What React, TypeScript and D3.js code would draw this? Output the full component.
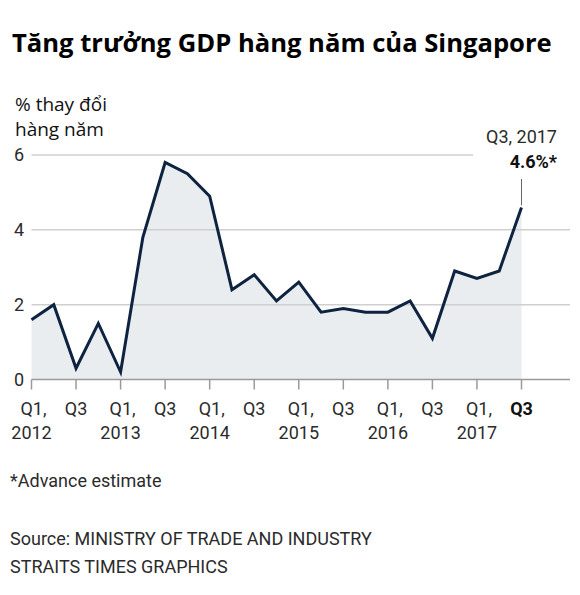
import React from "react";
import * as d3 from "d3";

const quarters = [
  "Q1 2012", "Q2 2012", "Q3 2012", "Q4 2012",
  "Q1 2013", "Q2 2013", "Q3 2013", "Q4 2013",
  "Q1 2014", "Q2 2014", "Q3 2014", "Q4 2014",
  "Q1 2015", "Q2 2015", "Q3 2015", "Q4 2015",
  "Q1 2016", "Q2 2016", "Q3 2016", "Q4 2016",
  "Q1 2017", "Q2 2017", "Q3 2017",
];
const growth = [
  1.6, 2.0, 0.3, 1.5,
  0.2, 3.8, 5.8, 5.5,
  4.9, 2.4, 2.8, 2.1,
  2.6, 1.8, 1.9, 1.8,
  1.8, 2.1, 1.1, 2.9,
  2.7, 2.9, 4.6,
];
const yTicks = [0, 2, 4, 6];
const xTickLines1 = ["Q1,", "Q3", "Q1,", "Q3", "Q1,", "Q3", "Q1,", "Q3", "Q1,", "Q3", "Q1,", "Q3"];
const xTickLines2 = ["2012", "", "2013", "", "2014", "", "2015", "", "2016", "", "2017", ""];

const title = "Tăng trưởng GDP hàng năm của Singapore";
const yTitle = ["% thay đổi", "hàng năm"];
const annotationLabel = "Q3, 2017";
const annotationValue = "4.6%*";
const footnote = "*Advance estimate";
const source = ["Source: MINISTRY OF TRADE AND INDUSTRY", "STRAITS TIMES GRAPHICS"];

export default function App() {
  const x = d3.scaleLinear().domain([0, quarters.length - 1]).range([31.5, 521.5]);
  const y = d3.scaleLinear().domain([0, 6]).range([379.5, 155]);
  const idx = growth.map((_, i) => i);
  const line = d3.line<number>().x((i) => x(i)).y((i) => y(growth[i]));
  const area = d3.area<number>().x((i) => x(i)).y0(y(0)).y1((i) => y(growth[i]));
  const last = growth.length - 1;
  const tickFont = "Roboto, 'DejaVu Sans', sans-serif";
  const txt = "#2b2b2b";
  const fs = 18;

  return (
    <svg width={580} height={595} style={{ position: "absolute", left: 0, top: 0, background: "#fff" }}>
      <text x={12} y={52} fontFamily="'Open Sans', sans-serif" fontWeight={700} fontSize={25.6} fill="#000">
        {title}
      </text>
      {yTitle.map((t, i) => (
        <text key={i} x={15} y={111 + i * 25} fontFamily="'Open Sans', sans-serif" fontSize={19} fill="#111">
          {t}
        </text>
      ))}
      <path d={area(idx) || ""} fill="#e9edf0" />
      {yTicks.filter((v) => v !== 0).map((v) => (
        <line key={v} x1={31.5} x2={v === 6 ? 473 : 570} y1={y(v)} y2={y(v)} stroke="#cfcfcf" strokeWidth={1.5} />
      ))}
      {yTicks.map((v) => (
        <text key={v} x={14} y={y(v)} dy="0.36em" fontFamily={tickFont} fontSize={fs} fill={txt}>
          {v}
        </text>
      ))}
      <line x1={31.5} x2={570} y1={y(0)} y2={y(0)} stroke="#9a9a9a" strokeWidth={1.5} />
      {xTickLines1.map((t, k) => {
        const i = k * 2;
        const bold = k === xTickLines1.length - 1;
        return (
          <g key={k}>
            <line x1={x(i)} x2={x(i)} y1={y(0)} y2={y(0) + 10} stroke="#9a9a9a" strokeWidth={1.5} />
            <text x={x(i) + (t.endsWith(",") ? 2 : 0)} y={415} textAnchor="middle" fontFamily={tickFont} fontSize={fs} fontWeight={bold ? 700 : 400} fill={bold ? "#111" : txt}>
              {t}
            </text>
            {xTickLines2[k] && (
              <text x={x(i)} y={439} textAnchor="middle" fontFamily={tickFont} fontSize={fs} fill={txt}>
                {xTickLines2[k]}
              </text>
            )}
          </g>
        );
      })}
      <path d={line(idx) || ""} fill="none" stroke="#0e2340" strokeWidth={3} strokeLinejoin="miter" />
      <line x1={x(last)} x2={x(last)} y1={179} y2={y(growth[last]) - 2} stroke="#666" strokeWidth={1} />
      <text x={557} y={143} textAnchor="end" fontFamily={tickFont} fontSize={fs} fill={txt}>
        {annotationLabel}
      </text>
      <text x={557} y={168} textAnchor="end" fontFamily={tickFont} fontSize={fs} fontWeight={700} fill="#111">
        {annotationValue}
      </text>
      <text x={10} y={487} fontFamily={tickFont} fontSize={fs} fill={txt}>
        {footnote}
      </text>
      {source.map((t, i) => (
        <text key={i} x={10} y={545 + i * 28} fontFamily={tickFont} fontSize={fs} fill={txt}>
          {t}
        </text>
      ))}
    </svg>
  );
}
